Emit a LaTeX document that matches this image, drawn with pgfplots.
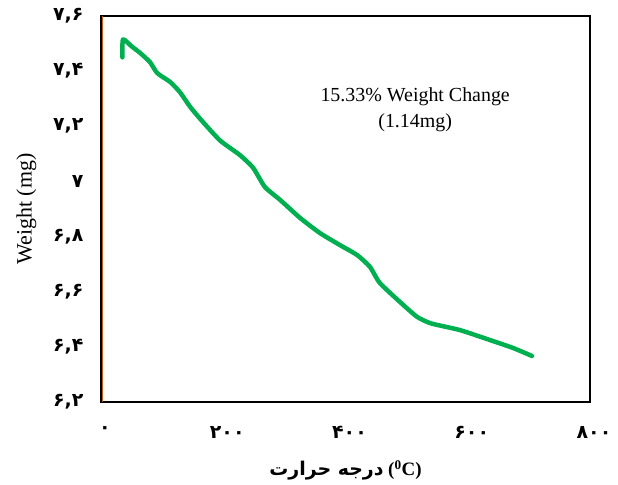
\documentclass[border=0pt]{standalone}
\usepackage{fontspec}
\setmainfont{Liberation Serif}
\newfontfamily\arabicfont[Script=Arabic]{DejaVu Sans}
\usepackage{pgfplots}
\pgfplotsset{compat=1.18}
\TeXXeTstate=1
\definecolor{tgagreen}{HTML}{00B050}
\definecolor{spineorange}{HTML}{C55A11}
\begin{document}
\begin{tikzpicture}
\begin{axis}[
  name=ax, scale only axis, width=489bp, height=386bp,
  xmin=0, xmax=800, ymin=6.2, ymax=7.6,
  xtick={0,200,400,600,800},
  xticklabels={۰,۲۰۰,۴۰۰,۶۰۰,۸۰۰},
  ytick={6.2,6.4,6.6,6.8,7,7.2,7.4,7.6},
  yticklabels={{۶,۲},{۶,۴},{۶,۶},{۶,۸},{۷},{۷,۲},{۷,۴},{۷,۶}},
  major tick length=0pt,
  axis line style={black, line width=1.5bp},
  tick label style={font=\arabicfont\bfseries\fontsize{19}{22}\selectfont},
  xticklabel style={yshift=-21bp, xshift=4bp},
  yticklabel style={xshift=-14bp},
  ylabel={Weight (mg)},
  ylabel style={font=\fontsize{22}{26}\selectfont, yshift=10bp},
  xlabel={{\arabicfont\bfseries\beginR درجه حرارت\endR} \textbf{(\textsuperscript{0}C)}},
  xlabel style={font=\fontsize{19}{22}\selectfont, yshift=-15bp},
]
\addplot[tgagreen, line width=4.5bp, line cap=round, line join=round, smooth, tension=0.35] coordinates {
(35,7.45) (36,7.515) (50,7.49) (64,7.466) (80,7.433) (92,7.393) (113,7.361)
(129,7.324) (146,7.27) (165,7.22) (195,7.148) (227,7.096) (249,7.049)
(268,6.980) (293,6.933) (326,6.867) (358,6.813) (391,6.769) (419,6.733)
(440,6.690) (456,6.632) (489,6.563) (517,6.509) (540,6.485) (587,6.461)
(636,6.425) (674,6.396) (705,6.367)
};
\draw[spineorange, line width=1.2bp] ([xshift=1.4bp]rel axis cs:0,0) -- ([xshift=1.4bp]rel axis cs:0,1);
\node[align=center, font=\fontsize{20}{26}\selectfont] at (axis cs:514,7.26) {15.33\% Weight Change\\(1.14mg)};
\end{axis}
\pgfresetboundingbox
\useasboundingbox ([xshift=-101bp,yshift=-83bp]ax.south west) rectangle ([xshift=28bp,yshift=16bp]ax.north east);
\end{tikzpicture}
\end{document}
